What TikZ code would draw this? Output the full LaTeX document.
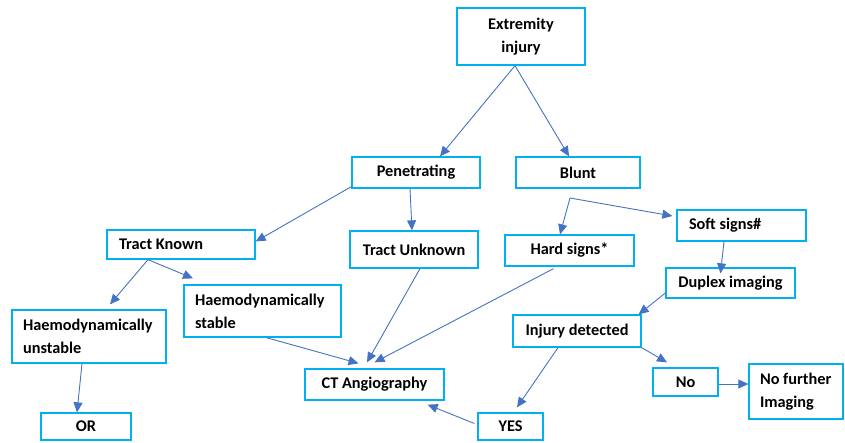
\documentclass[tikz,border=0pt]{standalone}
\usepackage{fontspec}
\setmainfont{Carlito}
\usetikzlibrary{arrows.meta}

\definecolor{boxline}{RGB}{0,176,240}
\definecolor{arrowline}{RGB}{68,114,196}

\begin{document}
\begin{tikzpicture}[x=1pt,y=-1pt,
	box/.style={draw=boxline,line width=1.3pt,font=\fontsize{16.3}{23}\selectfont\bfseries,inner sep=0pt,align=center},
	lbox/.style={box,align=flush left},
	link/.style={draw=arrowline,line width=0.9pt,-{Triangle[length=10pt,width=9pt]}}]
				
				\useasboundingbox (0,0) rectangle (845,442);
				
				\node[box,minimum width=128pt,minimum height=57pt] (ext) at (521,36.5) {Extremity\\injury};
				\node[box,minimum width=128pt,minimum height=31pt] (pen) at (416,172.5) {Penetrating};
				\node[box,minimum width=124pt,minimum height=31pt] (blunt) at (578,172.5) {Blunt};
				
				\node[lbox,minimum width=148pt,minimum height=29pt,text width=124pt] (tk) at (181,244.5) {Tract Known};
				\node[box,minimum width=128pt,minimum height=37pt] (tu) at (414,249.5) {Tract Unknown};
				\node[box,minimum width=129pt,minimum height=31pt] (hard) at (569.5,250.5) {Hard signs*};
				\node[lbox,minimum width=129pt,minimum height=31pt,text width=105pt] (soft) at (741.5,225.5) {Soft signs\#};
				\node[box,minimum width=129pt,minimum height=30pt] (duplex) at (730.5,283) {Duplex imaging};
				
				\node[lbox,minimum width=157pt,minimum height=52pt,text width=135pt] (hs) at (262.5,311) {Haemodynamically\\stable};
				\node[lbox,minimum width=154pt,minimum height=53pt,text width=132pt] (hu) at (89,336.5) {Haemodynamically\\unstable};
				\node[box,minimum width=139pt,minimum height=31pt] (ct) at (374.5,384.5) {CT Angiography};
				\node[box,minimum width=128pt,minimum height=32pt] (inj) at (577,331) {Injury detected};
				\node[box,minimum width=65pt,minimum height=28pt] (no) at (685.5,382) {No};
				\node[lbox,minimum width=94pt,minimum height=55pt,text width=72pt] (nf) at (796,391.5) {No further\\Imaging};
				\node[box,minimum width=90pt,minimum height=27pt] (or) at (86,426.5) {OR};
				\node[box,minimum width=65pt,minimum height=27pt] (yes) at (510.5,426.5) {YES};
				
				\coordinate (fork) at (570,198);
				
				\draw[link] ([xshift=-6pt]ext.south) -- ([xshift=24pt]pen.north);
				\draw[link] ([xshift=-6pt]ext.south) -- ([xshift=-9pt]blunt.north);
				\draw[link] ([yshift=2pt]pen.south west) -- ([yshift=3pt]tk.east);
				\draw[link] ([xshift=-6pt]pen.south) -- ([xshift=-2pt]tu.north);
				
				\draw[link] ([xshift=-33pt]tk.south) -- ([xshift=21pt,yshift=5pt]hu.north);
				\draw[link] ([xshift=-33pt]tk.south) -- ([xshift=-69.5pt,yshift=6pt]hs.north);
				\draw[link] ([xshift=-7pt]hu.south) -- ([xshift=-9pt]or.north);
				
				\draw[link] ([xshift=4pt]hs.south) -- ([xshift=-16pt,yshift=5pt]ct.north);
				\draw[link] ([xshift=6pt]tu.south) -- ([xshift=-7.5pt,yshift=6pt]ct.north);
				\draw[link] ([xshift=-16pt,yshift=-2pt]hard.south) -- ([yshift=6pt]ct.north);
				
				\draw[link] (fork) -- ([xshift=-9.5pt]hard.north);
				\draw[link] (fork) -- ([xshift=-4pt,yshift=9.5pt]soft.west);
				\draw[link] ([xshift=-17.5pt]soft.south) -- ([xshift=-10pt,yshift=-6pt]duplex.north);
				\draw[link] ([yshift=-10pt]duplex.west) -- ([xshift=-3pt]inj.north east);
				
				\draw[link] ([xshift=-19pt]inj.south) -- ([xshift=6.5pt,yshift=5pt]yes.north);
				\draw[link] (inj.south east) -- ([xshift=-18.5pt,yshift=5pt]no.north);
				\draw[link] ([yshift=-2pt]no.east) -- ([yshift=7.5pt]nf.west);
				\draw[link] ([xshift=-3pt,yshift=3pt]yes.west) -- ([xshift=-17pt,yshift=-4pt]ct.south east);
				
\end{tikzpicture}
\end{document}
